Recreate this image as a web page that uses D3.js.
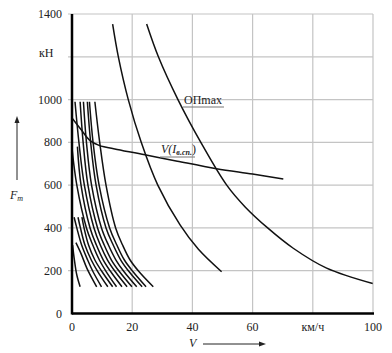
<!DOCTYPE html>
<html><head><meta charset="utf-8">
<script src="https://cdn.jsdelivr.net/npm/d3@7"></script>
<style>body{margin:0;background:#fff}svg{display:block}text{font-family:"Liberation Serif","Times New Roman",serif;fill:#222}</style>
</head><body>
<svg id="c" width="392" height="353"></svg>
<script>
const xTicks = [0, 20, 40, 60, 80, 100];
const xTickLabels = ["0", "20", "40", "60", "км/ч", "100"];
const yTicks = [0, 200, 400, 600, 800, 1000, 1200, 1400];
const yTickLabels = ["0", "200", "400", "600", "800", "1000", "кН", "1400"];

// ОПmax curve
const opMax = [[24.8,1353],[28.7,1200],[35.2,1000],[42.8,800],[51.4,600],[57.6,497],[65,400],[73.5,305],[84.6,212],[99.9,140]];
// middle curve
const midCurve = [[13.5,1353],[15.4,1200],[18.7,1000],[23,800],[28.5,600],[35.9,414],[42,300],[49.7,195]];
// V(I в.сп.)
const vI = [[0,914],[3,860],[6,808],[9,786],[15,767],[25,740],[35,712],[48,677],[60,652],[70.2,629]];
// controller position curves
const posCurves = [
  [[0.2,320],[0.8,250],[1.6,180],[2.7,125]],
  [[1.3,331],[3.0,280],[5.0,210],[8.2,125]],
  [[0.7,450],[1.6,400],[3.2,320],[5.2,250],[7.0,195],[9.8,125]],
  [[2.0,450],[2.8,400],[4.3,320],[6.4,250],[8.6,195],[11.9,125]],
  [[3.3,450],[4.0,400],[5.5,320],[7.6,250],[10.0,195],[13.5,125]],
  [[0,772],[1.6,600],[4.8,400],[6.9,320],[9.1,250],[11.4,195],[14.8,125]],
  [[1.8,780],[3.0,600],[6.0,400],[8.1,320],[10.4,250],[12.9,195],[16.6,125]],
  [[1.0,990],[2.3,800],[4.1,600],[7.3,400],[9.4,320],[11.8,250],[14.4,195],[18.3,125]],
  [[2.7,990],[3.7,800],[5.3,600],[8.5,400],[10.7,320],[13.1,250],[15.8,195],[19.9,125]],
  [[3.8,990],[4.8,800],[6.5,600],[9.8,400],[12.1,320],[14.6,250],[17.3,195],[21.5,125]],
  [[5.1,990],[6.2,800],[8.0,600],[11.3,400],[13.7,320],[16.2,250],[19.0,195],[23.3,125]],
  [[5.8,990],[7.0,800],[9.0,600],[12.5,400],[14.9,320],[17.4,250],[20.3,195],[24.6,125]],
  [[7.6,990],[9.2,800],[11.3,600],[14.5,400],[16.8,320],[19.3,250],[22.3,195],[27.0,125]]
];

const svg = d3.select("#c");
const x = d3.scaleLinear().domain([0,100]).range([72,373]);
const y = d3.scaleLinear().domain([0,1400]).range([313.5,14]);

// grid
const g = svg.append("g");
g.selectAll(".vg").data(xTicks.slice(1)).enter().append("line")
  .attr("x1",d=>x(d)).attr("x2",d=>x(d)).attr("y1",y(0)).attr("y2",y(1400))
  .attr("stroke","#c4c4c4").attr("stroke-width",1.2);
g.selectAll(".hg").data(yTicks.slice(1)).enter().append("line")
  .attr("x1",x(0)-4).attr("x2",x(100)).attr("y1",d=>y(d)).attr("y2",d=>y(d))
  .attr("stroke","#c4c4c4").attr("stroke-width",1.2);

// tick labels
svg.selectAll(".yl").data(yTicks).enter().append("text")
  .attr("x",(d,i)=>yTickLabels[i]==="кН"?39:62).attr("y",(d,i)=>y(d)+(yTickLabels[i]==="кН"?0:4))
  .attr("text-anchor",(d,i)=>yTickLabels[i]==="кН"?"start":"end")
  .attr("font-size",12).text((d,i)=>yTickLabels[i]);
svg.selectAll(".xl").data(xTicks).enter().append("text")
  .attr("x",d=>x(d)).attr("y",331).attr("text-anchor","middle")
  .attr("font-size",12).text((d,i)=>xTickLabels[i]);

// curves
const line = d3.line().x(d=>x(d[0])).y(d=>y(d[1])).curve(d3.curveCatmullRom.alpha(0.5));
const curves = svg.append("g").attr("fill","none").attr("stroke","#111").attr("stroke-width",1.5);
curves.append("path").attr("d",line(opMax));
curves.append("path").attr("d",line(midCurve));
curves.append("path").attr("d",line(vI));
curves.selectAll(".pc").data(posCurves).enter().append("path").attr("d",d=>line(d));

// axes
svg.append("line").attr("x1",x(0)).attr("x2",x(0)).attr("y1",y(0)+1).attr("y2",y(1400)).attr("stroke","#000").attr("stroke-width",2.5);
svg.append("line").attr("x1",x(0)).attr("x2",x(100)+1).attr("y1",y(0)).attr("y2",y(0)).attr("stroke","#000").attr("stroke-width",2.5);

// annotations
svg.append("text").attr("x",184).attr("y",104).attr("font-size",12).text("ОПmax");
svg.append("line").attr("x1",183).attr("x2",224).attr("y1",107).attr("y2",107).attr("stroke","#777").attr("stroke-width",1);
const a2 = svg.append("text").attr("x",161).attr("y",153).attr("font-size",12);
a2.append("tspan").attr("font-style","italic").text("V(I");
a2.append("tspan").attr("font-style","italic").attr("font-weight","bold").attr("font-size",8).attr("dy",2).text("в.сп.");
a2.append("tspan").attr("dy",-2).text(")");
svg.append("line").attr("x1",160).attr("x2",195).attr("y1",157).attr("y2",157).attr("stroke","#777").attr("stroke-width",1);

// left label & arrow
const fl = svg.append("text").attr("x",10).attr("y",199).attr("font-size",12).attr("font-style","italic");
fl.append("tspan").text("F");
fl.append("tspan").attr("font-size",8).attr("dy",2).text("т");
svg.append("line").attr("x1",17).attr("x2",17).attr("y1",180).attr("y2",121).attr("stroke","#222").attr("stroke-width",1);
svg.append("path").attr("d","M17,116 L14.5,123 L19.5,123 Z").attr("fill","#222");
// bottom label & arrow
svg.append("text").attr("x",189).attr("y",347).attr("font-size",12).attr("font-style","italic").text("V");
svg.append("line").attr("x1",203).attr("x2",261).attr("y1",344).attr("y2",344).attr("stroke","#222").attr("stroke-width",1);
svg.append("path").attr("d","M266,344 L259,341.5 L259,346.5 Z").attr("fill","#222");
</script>
</body></html>
